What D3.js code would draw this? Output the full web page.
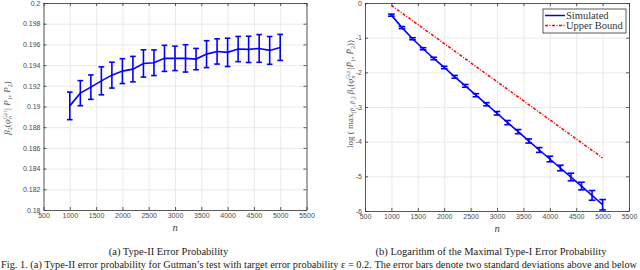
<!DOCTYPE html>
<html lang="en">
<head>
<meta charset="utf-8">
<title>Type-II and Type-I error probability</title>
<script src="https://d3js.org/d3.v7.min.js"></script>
<style>
  body { margin: 0; background: #fff; }
  .tick text { font-family: "Liberation Sans", Arial, sans-serif; font-size: 7px; fill: #4a4a4a; }
  .axis path, .axis line { stroke: #333; stroke-width: 0.8; }
  .grid line { stroke: #e4e4e4; stroke-width: 0.8; }
  .grid path { stroke: none; }
  .serif { font-family: "Liberation Serif", "Times New Roman", serif; }
</style>
</head>
<body>
<div id="chart"></div>
<script>
// sample sizes
var nVals = [1000, 1200, 1400, 1600, 1800, 2000, 2200, 2400, 2600, 2800, 3000,
             3200, 3400, 3600, 3800, 4000, 4200, 4400, 4600, 4800, 5000];

// (a) type-II error probability, mean and error bar half height
var type2Mean = [0.19006, 0.19129, 0.19187, 0.19248, 0.19303, 0.19342, 0.19361,
                 0.19416, 0.19423, 0.19465, 0.19465, 0.19465, 0.19458, 0.19506,
                 0.19532, 0.19523, 0.19555, 0.19552, 0.19561, 0.19542, 0.19571];
var type2Err = [0.00133, 0.00121, 0.00118, 0.00135, 0.00125, 0.00120, 0.00123,
                0.00132, 0.00124, 0.00126, 0.00118, 0.00132, 0.00103, 0.00130,
                0.00122, 0.00137, 0.00122, 0.00127, 0.00134, 0.00134, 0.00126];

// (b) log of maximal type-I error probability
var logMaxMean = [-0.35, -0.71, -1.03, -1.32, -1.60, -1.86, -2.13, -2.39, -2.66, -2.92, -3.18,
                  -3.45, -3.71, -3.98, -4.24, -4.50, -4.76, -5.02, -5.28, -5.55, -5.82];
var logMaxErr = [0.03, 0.03, 0.03, 0.03, 0.035, 0.035, 0.04, 0.04, 0.045, 0.045, 0.05,
                 0.06, 0.06, 0.06, 0.07, 0.08, 0.08, 0.11, 0.11, 0.14, 0.15];
var upperBound = [-0.07, -0.29, -0.51, -0.73, -0.95, -1.17, -1.39, -1.61, -1.83, -2.05, -2.27,
                  -2.49, -2.71, -2.93, -3.15, -3.37, -3.59, -3.81, -4.03, -4.25, -4.47];

// tick labels
var xTicks = [500, 1000, 1500, 2000, 2500, 3000, 3500, 4000, 4500, 5000, 5500];
var yTicksA = [0.18, 0.182, 0.184, 0.186, 0.188, 0.19, 0.192, 0.194, 0.196, 0.198, 0.2];
var yTicksB = [-6, -5, -4, -3, -2, -1, 0];

var captionA = "(a) Type-II Error Probability";
var captionB = "(b) Logarithm of the Maximal Type-I Error Probability";
var figText = "Fig. 1.  (a) Type-II error probability for Gutman\u2019s test with target error probability \u03b5 = 0.2. The error bars denote two standard deviations above and below";

var svg = d3.select("#chart").append("svg")
    .attr("width", 640)
    .attr("height", 270);

var fmt = function(d) { return String(+d.toFixed(4)).replace("\u2212", "-"); };

// draws one matlab-style panel and returns the scales
function panel(box, yDomain, yTicks) {
    var w = box.x1 - box.x0, h = box.y1 - box.y0;
    var g = svg.append("g").attr("transform", "translate(" + box.x0 + "," + box.y0 + ")");
    var x = d3.scaleLinear().domain([500, 5500]).range([0, w]);
    var y = d3.scaleLinear().domain(yDomain).range([h, 0]);

    // grid
    g.append("g").attr("class", "grid")
        .call(d3.axisBottom(x).tickValues(xTicks).tickSize(h).tickFormat(""));
    g.append("g").attr("class", "grid")
        .call(d3.axisRight(y).tickValues(yTicks).tickSize(w).tickFormat(""));

    // axes with ticks pointing inwards on all sides
    g.append("g").attr("class", "axis")
        .attr("transform", "translate(0," + h + ")")
        .call(d3.axisBottom(x).tickValues(xTicks).tickSizeInner(-3).tickSizeOuter(0)
              .tickPadding(3).tickFormat(fmt));
    g.append("g").attr("class", "axis")
        .call(d3.axisTop(x).tickValues(xTicks).tickSizeInner(-3).tickSizeOuter(0).tickFormat(""));
    g.append("g").attr("class", "axis")
        .call(d3.axisLeft(y).tickValues(yTicks).tickSizeInner(-3).tickSizeOuter(0)
              .tickPadding(3).tickFormat(fmt));
    g.append("g").attr("class", "axis")
        .attr("transform", "translate(" + w + ",0)")
        .call(d3.axisRight(y).tickValues(yTicks).tickSizeInner(-3).tickSizeOuter(0).tickFormat(""));

    // x label
    g.append("text").attr("class", "serif")
        .attr("x", w / 2).attr("y", h + 21)
        .attr("text-anchor", "middle")
        .style("font-size", "10.5px").style("font-style", "italic").style("fill", "#444")
        .text("n");
    return { g: g, x: x, y: y };
}

function errorBars(p, means, errs, cap, color) {
    var data = nVals.map(function(n, i) { return { n: n, m: means[i], e: errs[i] }; });
    var bars = p.g.append("g").selectAll("g").data(data).enter().append("g")
        .attr("stroke", color).attr("stroke-width", 1.6);
    bars.append("line")
        .attr("x1", function(d) { return p.x(d.n); }).attr("x2", function(d) { return p.x(d.n); })
        .attr("y1", function(d) { return p.y(d.m - d.e); }).attr("y2", function(d) { return p.y(d.m + d.e); });
    bars.append("line")
        .attr("x1", function(d) { return p.x(d.n) - cap; }).attr("x2", function(d) { return p.x(d.n) + cap; })
        .attr("y1", function(d) { return p.y(d.m - d.e); }).attr("y2", function(d) { return p.y(d.m - d.e); });
    bars.append("line")
        .attr("x1", function(d) { return p.x(d.n) - cap; }).attr("x2", function(d) { return p.x(d.n) + cap; })
        .attr("y1", function(d) { return p.y(d.m + d.e); }).attr("y2", function(d) { return p.y(d.m + d.e); });
    var line = d3.line()
        .x(function(d) { return p.x(d.n); })
        .y(function(d) { return p.y(d.m); });
    p.g.append("path").datum(data)
        .attr("fill", "none").attr("stroke", color).attr("stroke-width", 1.6)
        .attr("d", line);
}

// ---- panel (a)
var pa = panel({ x0: 43.5, x1: 306.5, y0: 3, y1: 210 }, [0.18, 0.2], yTicksA);
errorBars(pa, type2Mean, type2Err, 2.8, "#0000ff");

var labA = svg.append("text").attr("class", "serif")
    .attr("transform", "translate(10,108) rotate(-90)")
    .attr("text-anchor", "middle")
    .style("font-size", "9px").style("fill", "#555");
labA.append("tspan").style("font-style", "italic").text("\u03b2");
labA.append("tspan").attr("dy", 2).style("font-size", "6px").text("2");
labA.append("tspan").attr("dy", -2).text("(");
labA.append("tspan").style("font-style", "italic").text("\u03c6");
labA.append("tspan").attr("dy", -3).style("font-size", "5.5px").text("Gut");
labA.append("tspan").attr("dx", -8).attr("dy", 5).style("font-size", "6px").style("font-style", "italic").text("n");
labA.append("tspan").attr("dx", 6).attr("dy", -2).text("|");
labA.append("tspan").style("font-style", "italic").text(" P");
labA.append("tspan").attr("dy", 2).style("font-size", "6px").text("1");
labA.append("tspan").attr("dy", -2).text(", ");
labA.append("tspan").style("font-style", "italic").text("P");
labA.append("tspan").attr("dy", 2).style("font-size", "6px").text("2");
labA.append("tspan").attr("dy", -2).text(")");

// ---- panel (b)
var pb = panel({ x0: 365, x1: 629, y0: 3, y1: 211 }, [-6, 0], yTicksB);
var ubData = nVals.map(function(n, i) { return { n: n, v: upperBound[i] }; });
pb.g.append("path").datum(ubData)
    .attr("fill", "none").attr("stroke", "#ff0000").attr("stroke-width", 1.5)
    .attr("stroke-dasharray", "3,1.5,1,1.5")
    .attr("d", d3.line().x(function(d) { return pb.x(d.n); }).y(function(d) { return pb.y(d.v); }));
errorBars(pb, logMaxMean, logMaxErr, 3.3, "#0000ff");

var labB = svg.append("text").attr("class", "serif")
    .attr("transform", "translate(353,94) rotate(-90)")
    .attr("text-anchor", "middle")
    .style("font-size", "9px").style("fill", "#555");
labB.append("tspan").text("log ( max");
labB.append("tspan").attr("dy", 2).style("font-size", "6px").style("font-style", "italic").text("(P\u0303\u2081,P\u0303\u2082)");
labB.append("tspan").attr("dy", -2).style("font-style", "italic").text(" \u03b2");
labB.append("tspan").attr("dy", 2).style("font-size", "6px").text("1");
labB.append("tspan").attr("dy", -2).text("(");
labB.append("tspan").style("font-style", "italic").text("\u03c6");
labB.append("tspan").attr("dy", -3).style("font-size", "5.5px").text("Gut");
labB.append("tspan").attr("dx", -8).attr("dy", 5).style("font-size", "6px").style("font-style", "italic").text("n");
labB.append("tspan").attr("dx", 6).attr("dy", -2).text("|");
labB.append("tspan").style("font-style", "italic").text("P\u0303");
labB.append("tspan").attr("dy", 2).style("font-size", "6px").text("1");
labB.append("tspan").attr("dy", -2).text(", ");
labB.append("tspan").style("font-style", "italic").text("P\u0303");
labB.append("tspan").attr("dy", 2).style("font-size", "6px").text("2");
labB.append("tspan").attr("dy", -2).text("))");

// legend
var leg = svg.append("g").attr("transform", "translate(543,9)");
leg.append("rect").attr("width", 83).attr("height", 24)
    .attr("fill", "#fff").attr("stroke", "#333").attr("stroke-width", 0.8);
var legItems = [
    { label: "Simulated", color: "#0000ff", dash: null },
    { label: "Upper Bound", color: "#ff0000", dash: "3,1.5,1,1.5" }
];
legItems.forEach(function(it, i) {
    var yy = 6.5 + i * 10;
    leg.append("line").attr("x1", 2).attr("x2", 22).attr("y1", yy).attr("y2", yy)
        .attr("stroke", it.color).attr("stroke-width", 1.5)
        .attr("stroke-dasharray", it.dash);
    leg.append("text").attr("class", "serif")
        .attr("x", 23).attr("y", yy + 3.3)
        .style("font-size", "10.5px").style("fill", "#333")
        .text(it.label);
});

// captions
svg.append("text").attr("class", "serif")
    .attr("x", 168.5).attr("y", 255)
    .attr("text-anchor", "middle").style("font-size", "10.5px").style("fill", "#222")
    .text(captionA);
svg.append("text").attr("class", "serif")
    .attr("x", 491).attr("y", 255)
    .attr("text-anchor", "middle").style("font-size", "10.5px").style("fill", "#222")
    .text(captionB);
svg.append("text").attr("class", "serif")
    .attr("x", 1).attr("y", 268)
    .attr("textLength", 636)
    .style("font-size", "10.3px").style("fill", "#222")
    .text(figText);
</script>
</body>
</html>
